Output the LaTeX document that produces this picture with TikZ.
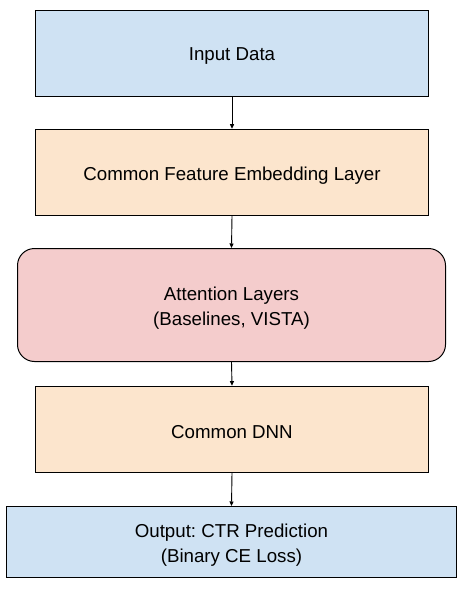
\documentclass[tikz,border=0pt]{standalone}
\usepackage{fontspec}
\setmainfont{Liberation Sans}
\usetikzlibrary{arrows.meta}
\frenchspacing
\definecolor{bluefill}{HTML}{CFE2F3}
\definecolor{orangefill}{HTML}{FCE5CD}
\definecolor{pinkfill}{HTML}{F4CCCC}
\begin{document}
\begin{tikzpicture}[x=1pt,y=-1pt,
  box/.style={draw=black,line width=1pt,inner sep=0pt},
  lbl/.style={inner sep=0pt,align=center,font=\fontsize{18.7}{24.5}\selectfont},
  conn/.style={draw=black,line width=0.9pt,-{Triangle[length=4.5pt,width=4pt]}}]
\useasboundingbox[fill=white] (0,0) rectangle (462,589);
\node[box,fill=bluefill,minimum width=393pt,minimum height=86pt] (inp) at (232,53.3) {};
\node[box,fill=orangefill,minimum width=393pt,minimum height=86pt] (emb) at (232,172.2) {};
\node[box,fill=pinkfill,rounded corners=17pt,minimum width=428pt,minimum height=113pt] (att) at (231.5,305) {};
\node[box,fill=orangefill,minimum width=393pt,minimum height=86pt] (dnn) at (232,429.2) {};
\node[box,fill=bluefill,minimum width=450pt,minimum height=71pt] (out) at (231.5,542) {};
\node[lbl] (inpt) at ([yshift=-3pt]inp.center) {Input Data};
\node[lbl] (embt) at ([yshift=-3pt]emb.center) {Common Feature Embedding Layer};
\node[lbl] (attt) at ([yshift=-3pt]att.center) {Attention Layers\\(Baselines, VISTA)};
\node[lbl] (dnnt) at ([yshift=-3pt]dnn.center) {Common DNN};
\node[lbl] (outt) at ([yshift=-3pt]out.center) {Output: CTR Prediction\\(Binary CE Loss)};
\draw[conn] (inp.south) -- (emb.north);
\draw[conn] (emb.south) -- (att.north);
\draw[conn] (att.south) -- (dnn.north);
\draw[conn] (dnn.south) -- (out.north);
\end{tikzpicture}
\end{document}
